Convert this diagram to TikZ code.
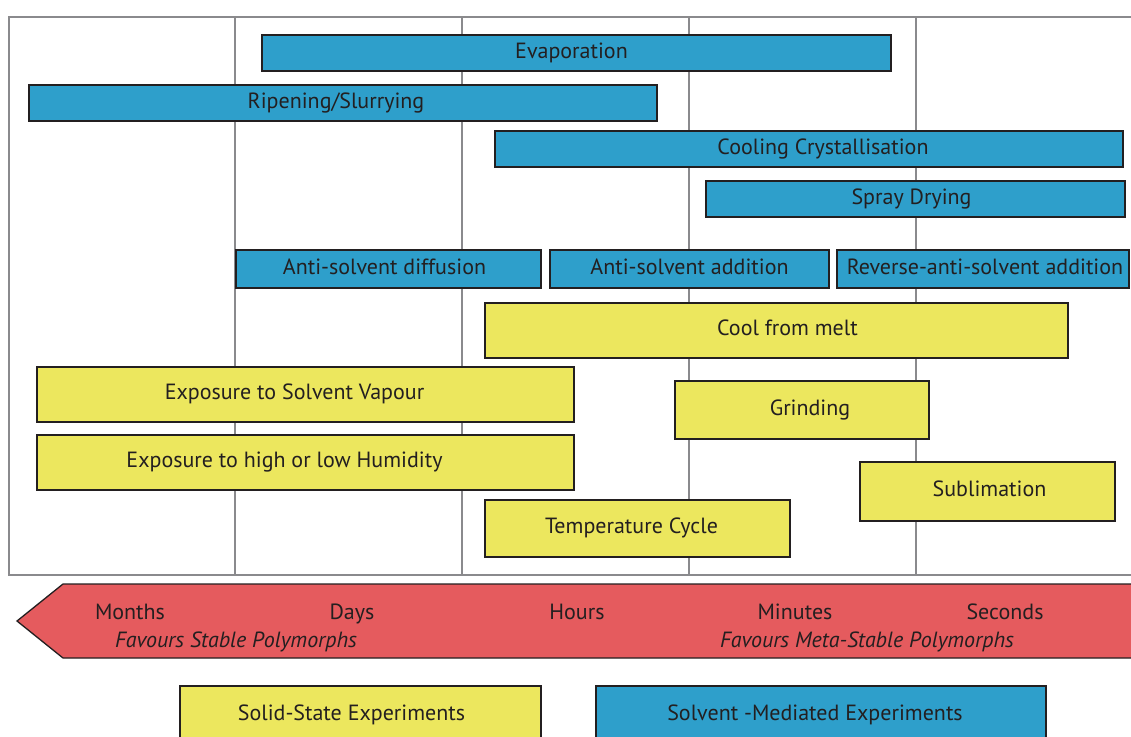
\documentclass[tikz,border=0pt]{standalone}
\usepackage{fontspec}
\setmainfont{PT Sans}
\definecolor{bbl}{HTML}{2E9FCB}
\definecolor{yel}{HTML}{ECE75E}
\definecolor{rd}{HTML}{E55B5E}
\definecolor{grd}{HTML}{8A8A8D}
\definecolor{ink}{HTML}{231F20}
\newcommand{\shR}[1]{\hspace*{#1}}
\begin{document}
\begin{tikzpicture}[x=1pt,y=-1pt,
  bx/.style={draw=ink,line width=1.3pt,inner sep=0pt,font=\fontsize{22}{26}\selectfont,text=ink,text height=15pt,text depth=5pt},
  sv/.style={bx,fill=bbl},
  ss/.style={bx,fill=yel},
  lbl/.style={font=\fontsize{22}{26}\selectfont,text=ink,inner sep=0pt,anchor=base}]
\useasboundingbox (0,0) rectangle (1131,736);
\clip (0,0) rectangle (1131,736);
% grid frame
\draw[grd,line width=1.3pt] (1140,17) -- (9,17) -- (9,575) -- (1140,575);
\foreach \xx in {235,462,689,916} \draw[grd,line width=1.3pt] (\xx,17) -- (\xx,575);
% solvent-mediated
\node[sv,minimum width=629pt,minimum height=36pt] (evap) at (576.5,53) {Evaporation\shR{10pt}};
\node[sv,minimum width=628pt,minimum height=36pt] (ripe) at (343,103) {Ripening/Slurrying\shR{14pt}};
\node[sv,minimum width=628pt,minimum height=36pt] (cool) at (809,149) {\shR{28pt}Cooling Crystallisation};
\node[sv,minimum width=419pt,minimum height=36pt] (spray) at (915.5,199) {Spray Drying\shR{8pt}};
\node[sv,minimum width=305pt,minimum height=38pt] (asd) at (388.5,269) {Anti-solvent diffusion\shR{8pt}};
\node[sv,minimum width=279pt,minimum height=38pt] (asa) at (689.5,269) {Anti-solvent addition};
\node[sv,minimum width=292pt,minimum height=38pt] (rasa) at (983,269) {\shR{4pt}Reverse-anti-solvent addition};
% solid-state
\node[ss,minimum width=583pt,minimum height=55pt] (melt) at (776.5,330.5) {\shR{22pt}Cool from melt};
\node[ss,minimum width=537pt,minimum height=55pt] (vap) at (305.5,394.5) {Exposure to Solvent Vapour\shR{22pt}};
\node[ss,minimum width=254pt,minimum height=58pt] (grind) at (802,410) {\shR{16pt}Grinding};
\node[ss,minimum width=537pt,minimum height=55pt] (hum) at (305.5,462.5) {Exposure to high or low Humidity\shR{42pt}};
\node[ss,minimum width=255pt,minimum height=59pt] (subl) at (987.5,491.5) {\shR{4pt}Sublimation};
\node[ss,minimum width=305pt,minimum height=57pt] (temp) at (637.5,528.5) {Temperature Cycle\shR{12pt}};
% time arrow
\draw[draw=ink,fill=rd,line width=1.3pt] (1140,584) -- (63,584) -- (17,621) -- (63,658) -- (1140,658) -- cycle;
\node[lbl] (months) at (130,619) {Months};
\node[lbl] (days) at (352,619) {Days};
\node[lbl] (hours) at (577,619) {Hours};
\node[lbl] (minutes) at (795,619) {Minutes};
\node[lbl] (seconds) at (1005,619) {Seconds};
\node[lbl,font=\fontsize{22}{26}\selectfont\itshape] (fsp) at (236,647) {Favours Stable Polymorphs};
\node[lbl,font=\fontsize{22}{26}\selectfont\itshape] (fmsp) at (867,647) {Favours Meta-Stable Polymorphs};
% legend
\node[ss,minimum width=361pt,minimum height=60pt] (lss) at (360.5,716) {};
\node[lbl] (lsst) at (351.5,720) {Solid-State Experiments};
\node[sv,minimum width=450pt,minimum height=60pt] (lsv) at (821,716) {};
\node[lbl] (lsvt) at (815,720) {Solvent -Mediated Experiments};
\end{tikzpicture}
\end{document}
